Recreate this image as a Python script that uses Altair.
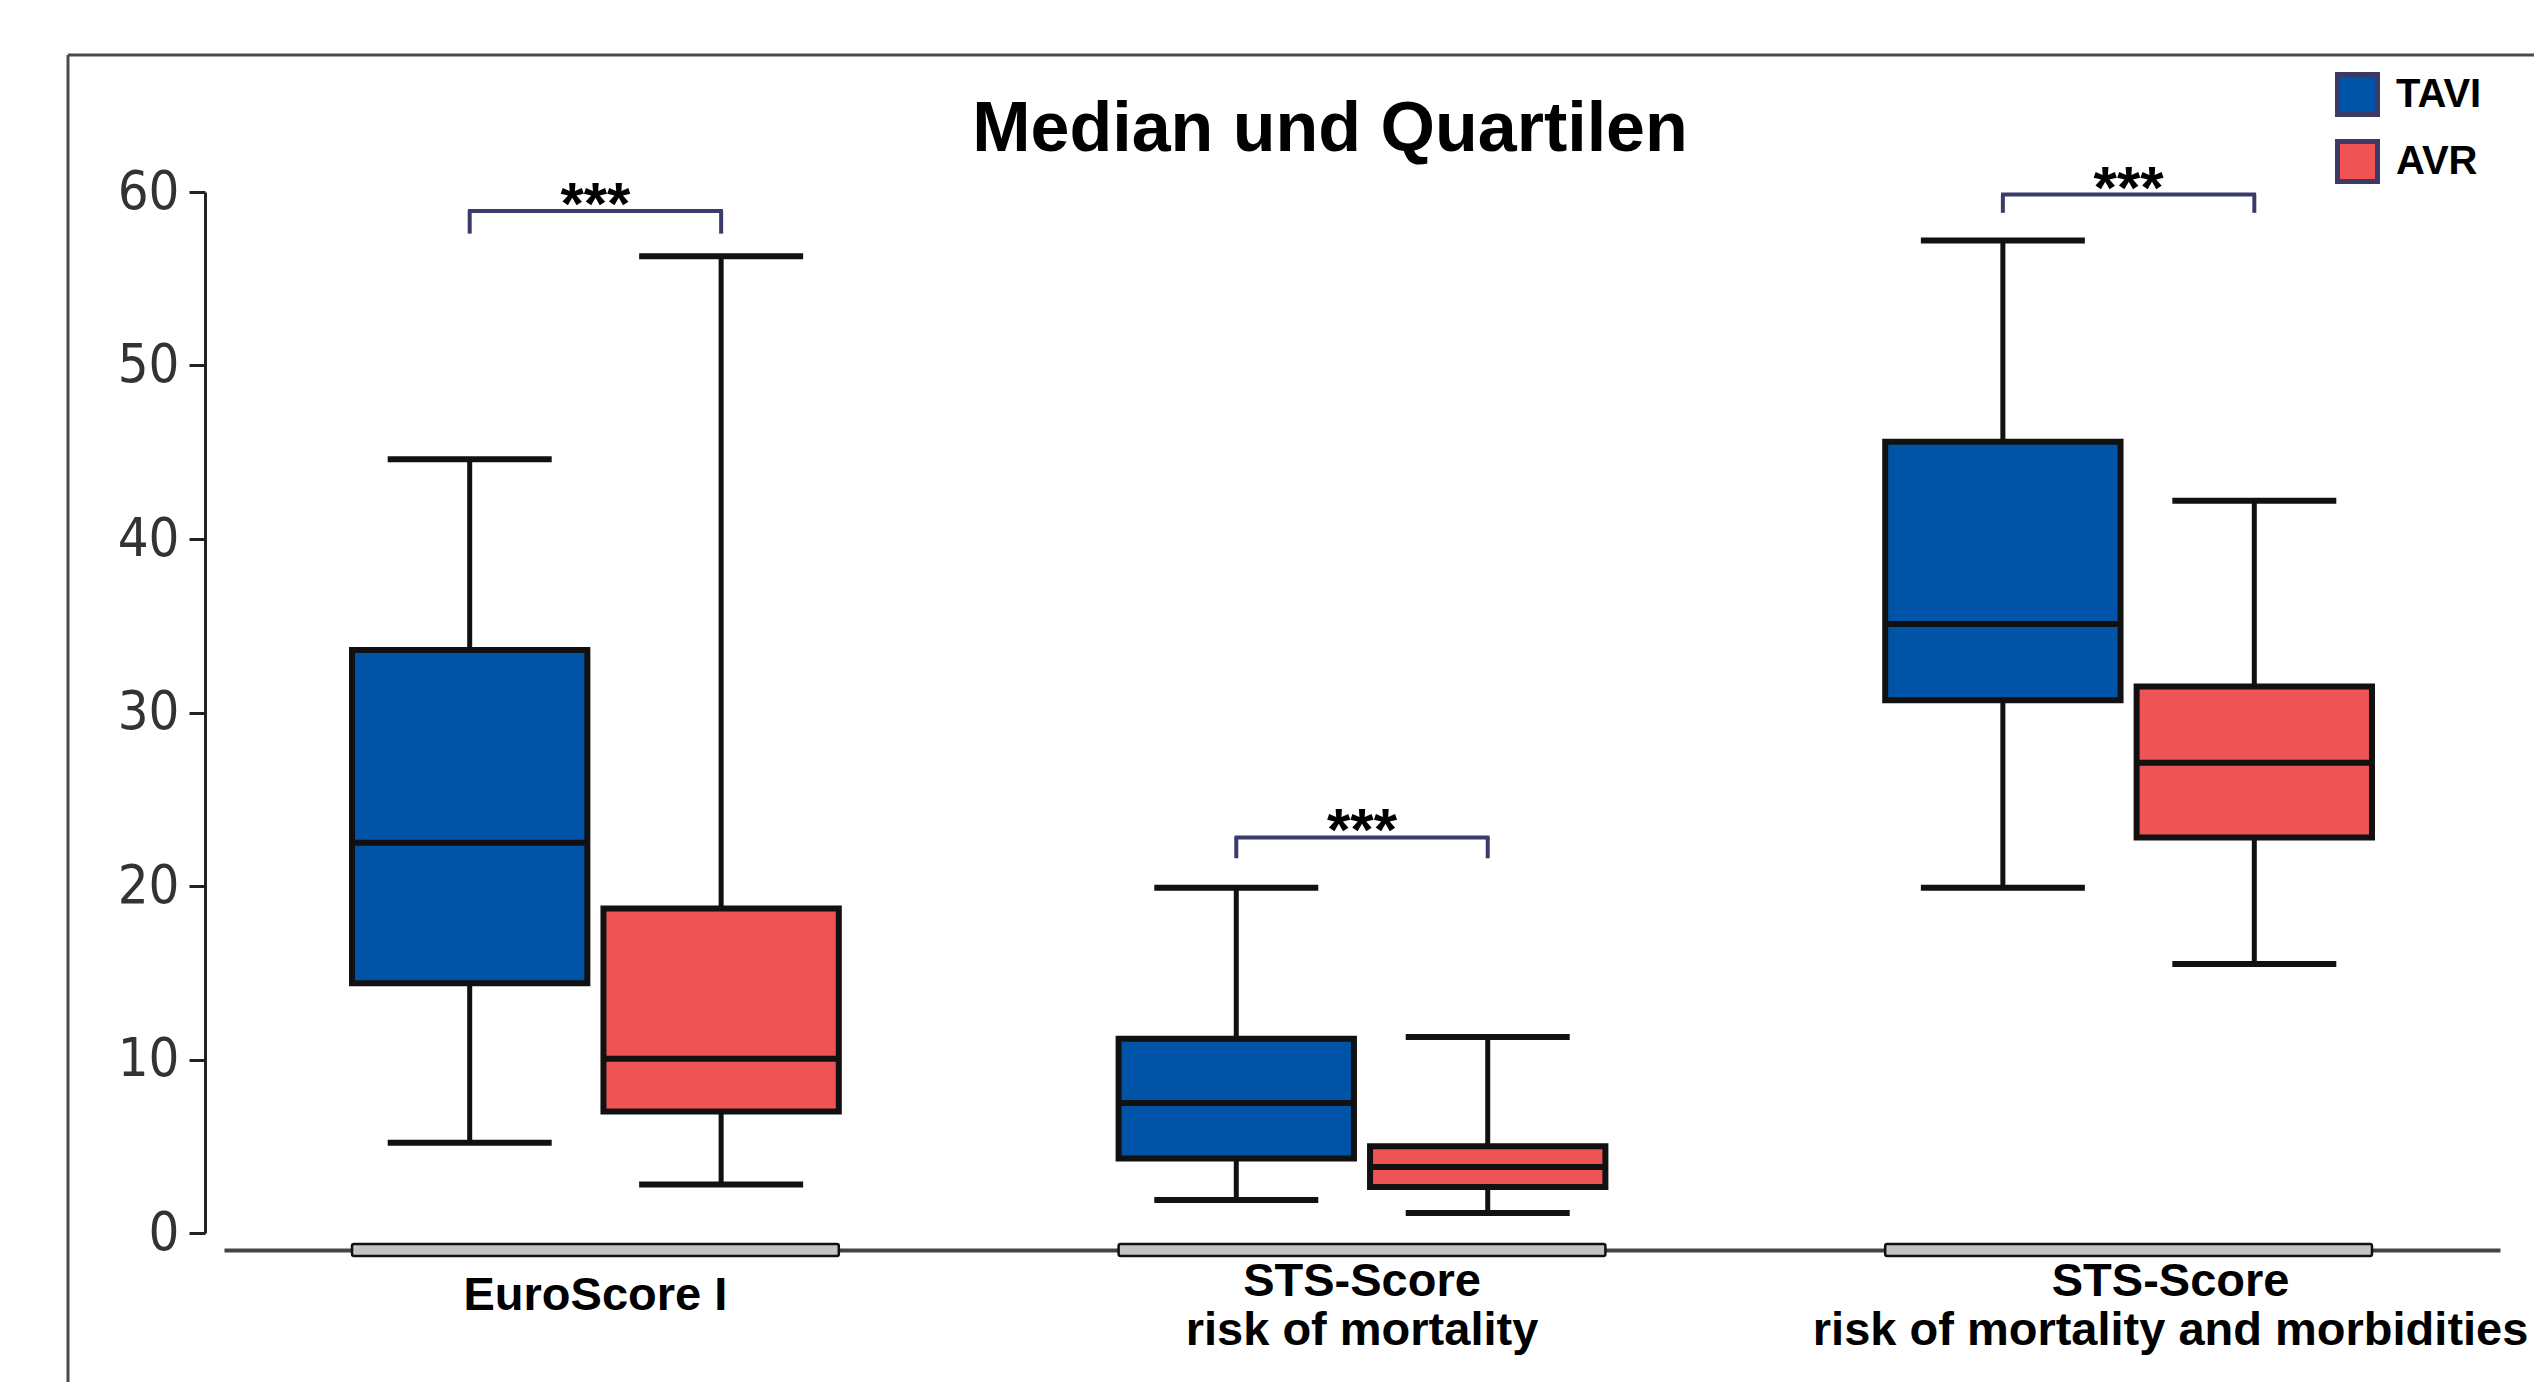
import altair as alt
import pandas as pd

# ---- data -------------------------------------------------------------
categories = [
    "EuroScore I",
    "STS-Score\nrisk of mortality",
    "STS-Score\nrisk of mortality and morbidities",
]
groups = ["TAVI", "AVR"]
group_colors = ["#0054A7", "#EF5353"]

whisker_low = {"TAVI": [5.2, 1.9, 19.9], "AVR": [2.8, 1.15, 15.5]}
quartile_1 = {"TAVI": [14.4, 4.3, 30.7], "AVR": [7.0, 2.65, 22.8]}
median = {"TAVI": [22.5, 7.5, 35.1], "AVR": [10.05, 3.8, 27.1]}
quartile_3 = {"TAVI": [33.6, 11.2, 45.6], "AVR": [18.7, 5.0, 31.5]}
whisker_high = {"TAVI": [44.6, 19.9, 57.2], "AVR": [56.3, 11.3, 42.2]}

bracket_top = [58.9, 22.8, 59.85]
bracket_foot = [57.6, 21.6, 58.8]
significance = ["***", "***", "***"]

y_ticks = [0, 10, 20, 30, 40, 50, 60]
title_text = "Median und Quartilen"

# ---- tables -----------------------------------------------------------
box_rows = []
for g in groups:
    for i, c in enumerate(categories):
        box_rows.append({
            "category": c, "series": g,
            "low": whisker_low[g][i], "q1": quartile_1[g][i],
            "med": median[g][i], "q3": quartile_3[g][i],
            "high": whisker_high[g][i],
        })
box_df = pd.DataFrame(box_rows)

bracket_df = pd.DataFrame({
    "category": categories, "top": bracket_top,
    "foot": bracket_foot, "stars": significance,
})
leg_df = pd.DataFrame([
    {"category": c, "series": g, "top": bracket_top[i], "foot": bracket_foot[i]}
    for i, c in enumerate(categories) for g in groups
])
cat_df = pd.DataFrame({"category": categories})
one_row = pd.DataFrame({"t": [title_text]})

# ---- styling ----------------------------------------------------------
SANS = "Liberation Sans, Arial, sans-serif"
NARROW = "Liberation Sans Narrow, Arial Narrow, DejaVu Sans Condensed, sans-serif"
INK = "#111111"
BRACKET = "#3b3b6b"

W, H = 2276, 1041

x_axis = alt.Axis(
    title=None,
    labelExpr="split(datum.label, '\\n')",
    labelFont=SANS,
    labelFontSize=47,
    labelFontWeight="bold",
    labelColor="black",
    labelLineHeight=49,
    labelBaseline="top",
    labelAngle=0,
    labelLimit=2000,
    labelPadding={"condition": {"test": "datum.value == 'EuroScore I'", "value": 22}, "value": 8},
    labelOffset={"condition": {"test": "indexof(datum.value, 'morbidities') >= 0", "value": 42}, "value": 0},
    ticks=False,
    tickSize=0,
    domainColor="#444444",
    domainWidth=4,
    offset=17,
)
y_axis = alt.Axis(
    title=None,
    values=y_ticks,
    grid=False,
    offset=19,
    tickSize=16,
    tickWidth=3,
    tickColor="#222222",
    domainColor="#222222",
    domainWidth=3,
    labelFont=NARROW,
    labelFontSize=54,
    labelColor="#333333",
    labelPadding=10,
)

x_enc = alt.X(
    "category:N", sort=categories,
    scale=alt.Scale(paddingInner=0.365, paddingOuter=0.167),
    axis=x_axis,
)
xo_enc = alt.XOffset(
    "series:N", sort=groups,
    scale=alt.Scale(paddingInner=0.064, paddingOuter=0),
)
y_scale = alt.Scale(domain=[0, 60], nice=False, zero=True)


def Y(field):
    return alt.Y(field, type="quantitative", scale=y_scale, axis=y_axis)


color_enc = alt.Color(
    "series:N",
    scale=alt.Scale(domain=groups, range=group_colors),
    legend=alt.Legend(
        title=None, orient="none", legendX=2111, legendY=-120,
        symbolType="square", symbolSize=1600,
        symbolStrokeColor="#3a3a64", symbolStrokeWidth=5,
        symbolOpacity=1,
        labelFont=SANS, labelFontSize=40, labelFontWeight="bold",
        labelColor="black", labelOffset=16, rowPadding=6, padding=0,
    ),
)

# ---- layers -----------------------------------------------------------
frame_top = alt.Chart(one_row).mark_rule(color="#4a4a4a", strokeWidth=3).encode(
    x=alt.value(-156), x2=alt.value(2310), y=alt.value(-137)
)
frame_left = alt.Chart(one_row).mark_rule(color="#4a4a4a", strokeWidth=3).encode(
    x=alt.value(-156), y=alt.value(-137), y2=alt.value(1190)
)

title = alt.Chart(one_row).mark_text(
    font=SANS, fontSize=70, fontWeight="bold", color="black",
    align="center", baseline="alphabetic",
).encode(text="t:N", x=alt.value(1106), y=alt.value(-41))

axis_bands = alt.Chart(cat_df).mark_bar(
    fill="#c4c4c4", stroke=INK, strokeWidth=2.5, cornerRadius=2
).encode(x=x_enc, y=alt.value(H + 11), y2=alt.value(H + 23))

whiskers = alt.Chart(box_df).mark_rule(color=INK, strokeWidth=5).encode(
    x=x_enc, xOffset=xo_enc, y=Y("low"), y2="high:Q"
)
cap_low = alt.Chart(box_df).mark_tick(color=INK, thickness=6, size=164, opacity=1).encode(
    x=x_enc, xOffset=xo_enc, y=Y("low")
)
cap_high = alt.Chart(box_df).mark_tick(color=INK, thickness=6, size=164, opacity=1).encode(
    x=x_enc, xOffset=xo_enc, y=Y("high")
)
boxes = alt.Chart(box_df).mark_bar(stroke=INK, strokeWidth=6, opacity=1).encode(
    x=x_enc, xOffset=xo_enc, y=Y("q1"), y2="q3:Q", color=color_enc
)
medians = alt.Chart(box_df).mark_tick(color=INK, thickness=6, size=235, opacity=1).encode(
    x=x_enc, xOffset=xo_enc, y=Y("med")
)

bracket_legs = alt.Chart(leg_df).mark_rule(color=BRACKET, strokeWidth=4).encode(
    x=x_enc, xOffset=xo_enc, y=Y("foot"), y2="top:Q"
)
bracket_bar = alt.Chart(bracket_df).mark_tick(color=BRACKET, thickness=4, size=255, opacity=1).encode(
    x=x_enc, y=Y("top")
)
stars = alt.Chart(bracket_df).mark_text(
    font=SANS, fontSize=60, fontWeight="bold", color="black",
    baseline="alphabetic", dy=13,
).encode(x=x_enc, y=Y("top"), text="stars:N")

chart = alt.layer(
    frame_top, frame_left, title, axis_bands,
    whiskers, cap_low, cap_high, boxes, medians,
    bracket_legs, bracket_bar, stars,
).properties(
    width=W, height=H,
    padding={"left": 66, "top": 53, "right": 0, "bottom": 0},
    background="white",
).configure_view(stroke=None)

chart.save("out.html", embed_options={"renderer": "svg", "actions": False})
